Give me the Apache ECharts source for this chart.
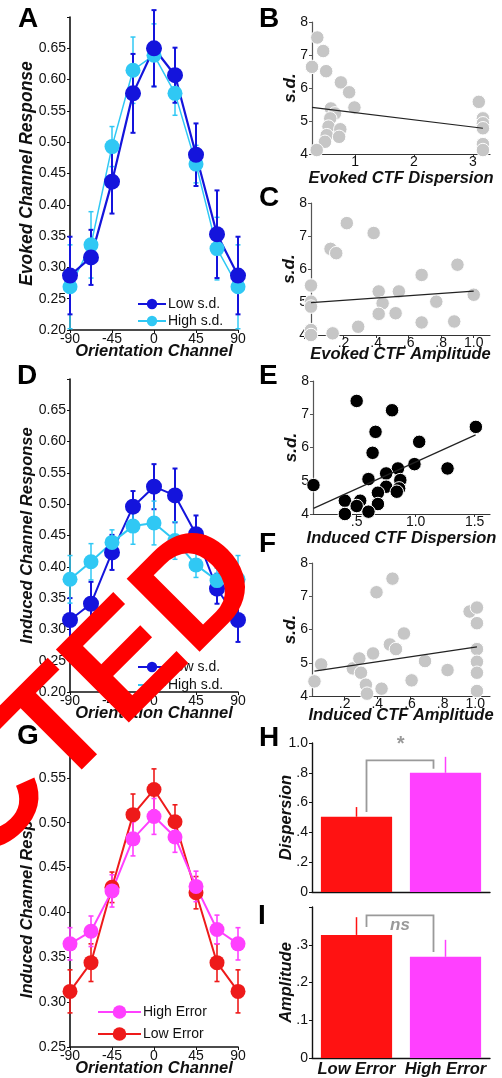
<!DOCTYPE html>
<html>
<head>
<meta charset="utf-8">
<script src="https://cdn.jsdelivr.net/npm/echarts@6/dist/echarts.min.js"></script>
<style>
html,body{margin:0;padding:0;background:#fff;}
#chart{width:502px;height:1078px;}
</style>
</head>
<body>
<div id="chart"></div>
<script>
// ---------- DATA ----------
const channels = [-90, -67.5, -45, -22.5, 0, 22.5, 45, 67.5, 90];
const channelTicks = [-90, -45, 0, 45, 90];

const evokedLow      = [0.287, 0.316, 0.437, 0.578, 0.650, 0.607, 0.480, 0.353, 0.287];
const evokedLowErr   = [0.062, 0.044, 0.051, 0.063, 0.061, 0.044, 0.050, 0.070, 0.062];
const evokedHigh     = [0.269, 0.336, 0.493, 0.615, 0.639, 0.578, 0.465, 0.330, 0.269];
const evokedHighErr  = [0.067, 0.053, 0.032, 0.053, 0.050, 0.035, 0.030, 0.050, 0.067];

const inducedLow     = [0.315, 0.341, 0.423, 0.496, 0.528, 0.514, 0.452, 0.365, 0.315];
const inducedLowErr  = [0.035, 0.035, 0.028, 0.025, 0.036, 0.043, 0.030, 0.024, 0.035];
const inducedHigh    = [0.380, 0.408, 0.439, 0.465, 0.470, 0.442, 0.403, 0.378, 0.380];
const inducedHighErr = [0.038, 0.029, 0.020, 0.029, 0.035, 0.030, 0.020, 0.020, 0.038];

const highErrorResp    = [0.365, 0.379, 0.424, 0.482, 0.507, 0.484, 0.429, 0.381, 0.365];
const highErrorRespErr = [0.018, 0.017, 0.018, 0.019, 0.020, 0.017, 0.017, 0.016, 0.018];
const lowErrorResp     = [0.312, 0.344, 0.428, 0.509, 0.537, 0.501, 0.422, 0.344, 0.312];
const lowErrorRespErr  = [0.024, 0.021, 0.017, 0.023, 0.023, 0.019, 0.018, 0.021, 0.024];

// B: evoked CTF dispersion vs s.d.
const evokedDispX = [0.36, 0.46, 0.27, 0.51, 0.76, 0.90, 0.99, 0.59, 0.66, 0.58, 0.55, 0.75, 0.52, 0.73, 0.49, 0.35, 3.10, 3.17, 3.17, 3.17, 3.17, 3.17];
const evokedDispY = [7.53, 7.12, 6.64, 6.51, 6.17, 5.87, 5.41, 5.38, 5.23, 5.08, 4.83, 4.75, 4.57, 4.52, 4.37, 4.12, 5.58, 5.08, 4.93, 4.78, 4.30, 4.12];
const evokedDispFitX = [0.27, 3.17];
const evokedDispFitY = [5.41, 4.78];

// C: evoked CTF amplitude vs s.d.
const evokedAmpX = [0.22, 0.385, 0.12, 0.155, 0, 0, 0, 0, 0, 0.133, 0.29, 0.416, 0.44, 0.416, 0.52, 0.54, 0.68, 0.68, 0.77, 0.88, 0.90, 1.0];
const evokedAmpY = [7.39, 7.09, 6.61, 6.48, 5.50, 5.01, 4.86, 4.15, 4.00, 4.05, 4.25, 5.32, 4.96, 4.64, 4.66, 5.32, 5.82, 4.38, 5.01, 4.41, 6.13, 5.22];
const evokedAmpFitX = [0, 1.0];
const evokedAmpFitY = [4.98, 5.33];

// E: induced CTF dispersion vs s.d.
const inducedDispX = [0.50, 0.80, 0.66, 1.03, 1.51, 0.635, 0.99, 1.27, 0.85, 0.60, 0.75, 0.87, 0.75, 0.86, 0.84, 0.68, 0.134, 0.40, 0.53, 0.50, 0.68, 0.40, 0.60];
const inducedDispY = [7.40, 7.12, 6.47, 6.17, 6.62, 5.84, 5.50, 5.37, 5.37, 5.05, 5.22, 5.02, 4.82, 4.77, 4.67, 4.64, 4.87, 4.40, 4.40, 4.24, 4.30, 4.00, 4.07];
const inducedDispFitX = [0.134, 1.508];
const inducedDispFitY = [4.17, 6.38];

// F: induced CTF amplitude vs s.d.
const inducedAmpX = [0.015, 0.056, 0.25, 0.29, 0.30, 0.33, 0.337, 0.374, 0.395, 0.426, 0.493, 0.477, 0.514, 0.563, 0.61, 0.692, 0.83, 0.965, 1.01, 1.01, 1.01, 1.01, 1.01, 1.01];
const inducedAmpY = [4.44, 4.95, 4.83, 5.13, 4.70, 4.34, 4.07, 5.28, 7.12, 4.22, 7.53, 5.55, 5.41, 5.88, 4.47, 5.05, 4.78, 6.54, 6.66, 6.19, 5.41, 5.03, 4.70, 4.15];
const inducedAmpFitX = [0.015, 1.01];
const inducedAmpFitY = [4.75, 5.48];

// H / I: bar charts
const groups = ['Low Error', 'High Error'];
const dispersionMean = [0.505, 0.800];
const dispersionErr  = [0.065, 0.107];
const amplitudeMean  = [0.326, 0.268];
const amplitudeErr   = [0.047, 0.045];
// bracket: [left foot, top, right foot]
const dispersionBracket = [0.537, 0.884, 0.828];
const amplitudeBracket  = [0.347, 0.378, 0.281];
const dispersionSig = '*';
const amplitudeSig = 'ns';

const panelLetters = ['A','B','C','D','E','F','G','H','I'];
const stampText = 'REJECTED';

// ---------- STYLE ----------
const FONT = '"Liberation Sans", Arial, Helvetica, sans-serif';
const DBLUE = '#1414dc';
const CYAN = '#30c8f4';
const MAG = '#ff40ff';
const RED = '#ee1a1a';
const BARRED = '#ff1212';
const GRAY = '#c6c6c6';

const nameStyle = {fontFamily: FONT, fontWeight: 'bold', fontStyle: 'italic', fontSize: 16.5, color: '#111'};

function zip(xs, ys){ return xs.map((x,i)=>[x, ys[i]]); }
function errData(vals, errs){ return channels.map((x,i)=>[x, vals[i]-errs[i], vals[i]+errs[i]]); }

function errRender(color, lw, cap){
  return function(params, api){
    const x = api.value(0), lo = api.value(1), hi = api.value(2);
    const a = api.coord([x, hi]), b = api.coord([x, lo]);
    const st = {stroke: color, lineWidth: lw};
    return {type:'group', children:[
      {type:'line', shape:{x1:a[0], y1:a[1], x2:b[0], y2:b[1]}, style: st},
      {type:'line', shape:{x1:a[0]-cap, y1:a[1], x2:a[0]+cap, y2:a[1]}, style: st},
      {type:'line', shape:{x1:b[0]-cap, y1:b[1], x2:b[0]+cap, y2:b[1]}, style: st}
    ]};
  };
}
function barErrRender(params, api){
  const i = api.value(0), v = api.value(1), e = api.value(2);
  const a = api.coord([i, v]), b = api.coord([i, v + e]);
  const color = params.dataIndex === 0 ? BARRED : MAG;
  return {type:'line', shape:{x1:a[0], y1:a[1], x2:b[0], y2:b[1]}, style:{stroke: color, lineWidth: 1.5}};
}
function bracketRender(sig){
  return function(params, api){
    const lf = api.value(0), top = api.value(1), rf = api.value(2);
    const p0 = api.coord([0, lf]), p1 = api.coord([0, top]);
    const q0 = api.coord([1, rf]);
    const lx = p0[0] + 10, rx = q0[0] - 12;
    return {type:'group', children:[
      {type:'polyline', shape:{points:[[lx, p0[1]],[lx, p1[1]],[rx, p1[1]],[rx, q0[1]]]}, style:{stroke:'#9a9a9a', lineWidth:1.8, fill:null}},
      {type:'text', x:(lx+rx)/2, y: sig === '*' ? p1[1]-6 : p1[1]+2, style:{text: sig, fill:'#999', font: sig === '*' ? 'bold italic 20px ' + FONT : 'bold italic 17px ' + FONT, align:'center', verticalAlign: sig === '*' ? 'bottom' : 'top'}}
    ]};
  };
}

function lineX(gi){
  return {gridIndex: gi, type:'value', min:-90, max:90, interval:45,
    axisLine:{onZero:false, lineStyle:{color:'#111', width:1.6}},
    axisTick:{length:3, lineStyle:{color:'#111'}},
    axisLabel:{fontSize:14, color:'#111', margin:2, fontFamily: FONT},
    splitLine:{show:false},
    name:'Orientation Channel', nameLocation:'middle', nameGap:13, nameMoveOverlap:false, nameTextStyle: nameStyle};
}
function lineY(gi, min, max, name, nameSize){
  return {gridIndex: gi, type:'value', min:min, max:max, interval:0.05,
    axisLine:{show:true, onZero:false, lineStyle:{color:'#111', width:1.6}},
    axisTick:{show:true, length:3, lineStyle:{color:'#111'}},
    axisLabel:{fontSize:14, color:'#111', margin:4, fontFamily: FONT,
      formatter: v => (Math.abs(v - max) < 1e-6 ? '' : v.toFixed(2))},
    splitLine:{show:false},
    name:name, nameLocation:'middle', nameGap:34, nameMoveOverlap:false, nameTextStyle: Object.assign({}, nameStyle, {fontSize:nameSize})};
}
function scatX(gi, min, max, vals, fmt, name, gap){
  return {gridIndex: gi, type:'value', min:min, max:max,
    axisLine:{onZero:false, lineStyle:{color:'#333', width:1.2}},
    axisTick:{length:3, customValues: vals, lineStyle:{color:'#333'}},
    axisLabel:{fontSize:14, color:'#111', margin:1, fontFamily: FONT, customValues: vals, formatter: fmt},
    splitLine:{show:false},
    name:name, nameLocation:'middle', nameGap:gap, nameMoveOverlap:false, nameTextStyle: nameStyle};
}
function scatY(gi){
  return {gridIndex: gi, type:'value', min:4, max:8, interval:1,
    axisLine:{show:true, onZero:false, lineStyle:{color:'#555', width:1.2}},
    axisTick:{show:true, length:3, lineStyle:{color:'#555'}},
    axisLabel:{fontSize:14, color:'#111', margin:4, fontFamily: FONT},
    splitLine:{show:false},
    name:'s.d.', nameLocation:'middle', nameGap:13, nameMoveOverlap:false, nameTextStyle: Object.assign({}, nameStyle, {fontSize:17})};
}
const fmtDec = v => { const r = Math.round(v*10)/10; return r === 1 ? '1.0' : (r < 1 ? '.' + Math.round(r*10) : r.toFixed(1)); };

function scatterSeries(gi, xs, ys, color){
  return {type:'scatter', xAxisIndex:gi, yAxisIndex:gi, data: zip(xs, ys), symbolSize:13.5,
    itemStyle:{color: color, borderColor:'#fff', borderWidth:1, opacity:1}, silent:true, z:2};
}
function fitSeries(gi, xs, ys){
  return {type:'line', xAxisIndex:gi, yAxisIndex:gi, data: zip(xs, ys), symbol:'none',
    lineStyle:{color:'#222', width:1.2}, silent:true, z:3};
}
function lineSeries(gi, name, vals, color, width, size){
  return {type:'line', name:name, xAxisIndex:gi, yAxisIndex:gi, data: zip(channels, vals),
    symbol:'circle', symbolSize:size, lineStyle:{color:color, width:width}, itemStyle:{color:color},
    silent:true, z:3};
}
function errSeries(gi, vals, errs, color, lw){
  return {type:'custom', xAxisIndex:gi, yAxisIndex:gi, data: errData(vals, errs),
    renderItem: errRender(color, lw, 2.5), silent:true, z:2};
}

const chart = echarts.init(document.getElementById('chart'));
const letterPos = [[18,33],[259,33],[259,212],[17,390],[259,390],[259,558],[17,750],[259,752],[258,930]];

const legendText = {fontSize:14, color:'#111', padding:[0,0,0,-3]};

const option = {
  animation:false,
  backgroundColor:'#fff',
  textStyle:{fontFamily: FONT},
  grid:[
    {left:70, top:17, width:168, height:313},
    {left:312, top:22, width:178, height:132},
    {left:311, top:203, width:179, height:132},
    {left:70, top:379, width:168, height:313},
    {left:313, top:381, width:177, height:133},
    {left:312, top:563, width:178, height:133},
    {left:70, top:733, width:168, height:314},
    {left:312, top:743, width:178, height:149},
    {left:312, top:907, width:178, height:151}
  ],
  xAxis:[
    lineX(0),
    scatX(1, 0.27, 3.29, [1,2,3], v => String(Math.round(v)), 'Evoked CTF Dispersion', 16),
    scatX(2, 0, 1.1, [0.2,0.4,0.6,0.8,1.0], fmtDec, 'Evoked CTF Amplitude', 11),
    lineX(3),
    scatX(4, 0.13, 1.63, [0.5,1.0,1.5], fmtDec, 'Induced CTF Dispersion', 16),
    scatX(5, 0, 1.09, [0.2,0.4,0.6,0.8,1.0], fmtDec, 'Induced CTF Amplitude', 11),
    lineX(6),
    {gridIndex:7, type:'category', data:groups, axisLine:{lineStyle:{color:'#111', width:1.4}},
      axisTick:{alignWithLabel:true, length:3, lineStyle:{color:'#111'}}, axisLabel:{show:false}},
    {gridIndex:8, type:'category', data:groups, axisLine:{lineStyle:{color:'#111', width:1.4}},
      axisTick:{show:false}, axisLabel:{interval:0, fontSize:16.5, fontWeight:'bold', fontStyle:'italic', color:'#111', margin:3, fontFamily: FONT}}
  ],
  yAxis:[
    lineY(0, 0.20, 0.70, 'Evoked Channel Response', 17.5),
    scatY(1),
    scatY(2),
    lineY(3, 0.20, 0.70, 'Induced Channel Response', 16.5),
    scatY(4),
    scatY(5),
    lineY(6, 0.25, 0.60, 'Induced Channel Response', 16.5),
    {gridIndex:7, type:'value', min:0, max:1, interval:0.2,
      axisLine:{show:true, lineStyle:{color:'#111', width:1.4}}, axisTick:{show:true, length:3},
      axisLabel:{fontSize:14, color:'#111', margin:4, fontFamily: FONT, formatter: v => v === 0 ? '0' : fmtDec(v)},
      splitLine:{show:false}, name:'Dispersion', nameLocation:'middle', nameGap:17, nameMoveOverlap:false, nameTextStyle: nameStyle},
    {gridIndex:8, type:'value', min:0, max:0.4, interval:0.1,
      axisLine:{show:true, lineStyle:{color:'#111', width:1.4}}, axisTick:{show:true, length:3},
      axisLabel:{fontSize:14, color:'#111', margin:4, fontFamily: FONT, formatter: v => v === 0 ? '0' : (Math.abs(v-0.4)<1e-6 ? '' : fmtDec(v))},
      splitLine:{show:false}, name:'Amplitude', nameLocation:'middle', nameGap:17, nameMoveOverlap:false, nameTextStyle: nameStyle}
  ],
  legend:[
    {data:['Low s.d.','High s.d.'], left:137, top:297, padding:0, orient:'vertical', itemGap:3, itemWidth:28, itemHeight:13, selectedMode:false, textStyle: legendText},
    {data:['Low s.d.','High s.d.'], left:137, top:660, padding:0, orient:'vertical', itemGap:4, itemWidth:28, itemHeight:13, selectedMode:false, textStyle: legendText},
    {data:['High Error','Low Error'], left:97, top:1005, padding:0, orient:'vertical', itemGap:8, itemWidth:43, itemHeight:17, selectedMode:false, textStyle: legendText}
  ],
  series:[
    // A
    errSeries(0, evokedHigh, evokedHighErr, CYAN, 1.5),
    errSeries(0, evokedLow, evokedLowErr, DBLUE, 2),
    lineSeries(0, 'High s.d.', evokedHigh, CYAN, 1.5, 15),
    lineSeries(0, 'Low s.d.', evokedLow, DBLUE, 2.2, 16),
    // B
    scatterSeries(1, evokedDispX, evokedDispY, GRAY),
    fitSeries(1, evokedDispFitX, evokedDispFitY),
    // C
    scatterSeries(2, evokedAmpX, evokedAmpY, GRAY),
    fitSeries(2, evokedAmpFitX, evokedAmpFitY),
    // D
    errSeries(3, inducedLow, inducedLowErr, DBLUE, 2),
    lineSeries(3, 'Low s.d.', inducedLow, DBLUE, 2, 16),
    errSeries(3, inducedHigh, inducedHighErr, CYAN, 1.5),
    lineSeries(3, 'High s.d.', inducedHigh, CYAN, 2, 15),
    // E
    scatterSeries(4, inducedDispX, inducedDispY, '#000'),
    fitSeries(4, inducedDispFitX, inducedDispFitY),
    // F
    scatterSeries(5, inducedAmpX, inducedAmpY, GRAY),
    fitSeries(5, inducedAmpFitX, inducedAmpFitY),
    // G
    errSeries(6, lowErrorResp, lowErrorRespErr, RED, 1.6),
    lineSeries(6, 'Low Error', lowErrorResp, RED, 2, 15),
    errSeries(6, highErrorResp, highErrorRespErr, MAG, 1.6),
    lineSeries(6, 'High Error', highErrorResp, MAG, 2, 15),
    // H
    {type:'bar', xAxisIndex:7, yAxisIndex:7, barCategoryGap:'20%', silent:true,
      data: dispersionMean.map((v,i)=>({value:v, itemStyle:{color: i===0 ? BARRED : MAG}}))},
    {type:'custom', xAxisIndex:7, yAxisIndex:7, data: dispersionMean.map((v,i)=>[i, v, dispersionErr[i]]), renderItem: barErrRender, silent:true, z:3},
    {type:'custom', xAxisIndex:7, yAxisIndex:7, data:[dispersionBracket], renderItem: bracketRender(dispersionSig), silent:true, z:3},
    // I
    {type:'bar', xAxisIndex:8, yAxisIndex:8, barCategoryGap:'20%', silent:true,
      data: amplitudeMean.map((v,i)=>({value:v, itemStyle:{color: i===0 ? BARRED : MAG}}))},
    {type:'custom', xAxisIndex:8, yAxisIndex:8, data: amplitudeMean.map((v,i)=>[i, v, amplitudeErr[i]]), renderItem: barErrRender, silent:true, z:3},
    {type:'custom', xAxisIndex:8, yAxisIndex:8, data:[amplitudeBracket], renderItem: bracketRender(amplitudeSig), silent:true, z:3}
  ],
  graphic:[
    ...panelLetters.map((L,i)=>({type:'text', x:letterPos[i][0], y:letterPos[i][1], z:50,
      style:{text:L, font:'bold 28px ' + FONT, fill:'#000', align:'left', verticalAlign:'bottom'}})),
    {type:'text', x:293, y:606, rotation: Math.PI/4, z:100, silent:true,
      style:{text: stampText, font:'bold 150px ' + FONT, fill:'#ff0000', align:'right', verticalAlign:'bottom'}}
  ]
};
chart.setOption(option);
</script>
</body>
</html>
